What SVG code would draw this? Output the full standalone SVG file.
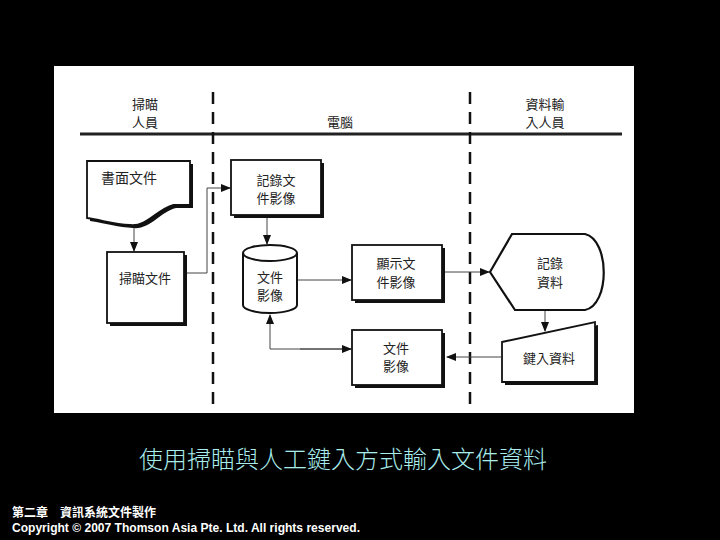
<svg xmlns="http://www.w3.org/2000/svg" width="720" height="540" viewBox="0 0 720 540">
<defs>
<style>
.t{font-family:"Noto Sans CJK TC","Noto Sans CJK SC",sans-serif;font-size:13px;fill:#222;text-anchor:middle}
.box{fill:#fff;stroke:#111;stroke-width:1.8}
.sh{fill:#111;stroke:none}
.ln{fill:none;stroke:#444;stroke-width:1}
.dash{stroke:#111;stroke-width:2.5;stroke-dasharray:12,8}
</style>
<marker id="ah" markerWidth="10" markerHeight="8" refX="9" refY="4" orient="auto" markerUnits="userSpaceOnUse">
<path d="M0,0 L10,4 L0,8 Z" fill="#111"/>
</marker>
</defs>
<rect x="0" y="0" width="720" height="540" fill="#000"/>
<rect x="54" y="66" width="580" height="347" fill="#fff"/>

<g id="header">
<line x1="80" y1="134" x2="622" y2="134" stroke="#222" stroke-width="3"/>
<line class="dash" x1="213" y1="92" x2="213" y2="404"/>
<line class="dash" x1="470" y1="92" x2="470" y2="404"/>
<text class="t" x="145" y="109">掃瞄</text>
<text class="t" x="145" y="127">人員</text>
<text class="t" x="340" y="127">電腦</text>
<text class="t" x="545" y="109">資料輸</text>
<text class="t" x="545" y="127">入人員</text>
</g>

<g id="connectors">
<line class="ln" x1="134" y1="226" x2="134" y2="251" marker-end="url(#ah)"/>
<polyline class="ln" points="187,273 207,273 207,188 230,188" marker-end="url(#ah)"/>
<line class="ln" x1="267" y1="216" x2="267" y2="244" marker-end="url(#ah)"/>
<line class="ln" x1="298" y1="280" x2="351" y2="280" marker-end="url(#ah)"/>
<line class="ln" x1="445" y1="272" x2="489" y2="272" marker-end="url(#ah)"/>
<line class="ln" x1="545" y1="311" x2="545" y2="331" marker-end="url(#ah)"/>
<line class="ln" x1="501" y1="357" x2="447" y2="357" marker-end="url(#ah)"/>
<polyline class="ln" points="351,349 270,349 270,315" marker-end="url(#ah)"/>
<line class="ln" x1="300" y1="349" x2="351" y2="349" marker-end="url(#ah)"/>
</g>

<g id="doc">
<path class="sh" d="M90,164 L193,164 L193,208 L176,208 C160,212 150,230 133,228 C118,227 108,224 90,221 Z"/>
<path class="box" d="M87,161 L190,161 L190,205 L173,205 C157,209 147,227 130,225 C115,224 105,221 87,218 Z"/>
<text class="t" x="129" y="183" style="font-size:14px">書面文件</text>
</g>

<g id="scan">
<rect class="sh" x="110" y="255" width="77" height="71"/>
<rect class="box" x="107" y="252" width="77" height="71"/>
<text class="t" x="145" y="283">掃瞄文件</text>
</g>

<g id="record">
<rect class="sh" x="234" y="163" width="90" height="55"/>
<rect class="box" x="231" y="160" width="90" height="55"/>
<text class="t" x="276" y="185">記錄文</text>
<text class="t" x="276" y="203">件影像</text>
</g>

<g id="db">
<path class="box" d="M243,253 L243,305 A27,8 0 0 0 297,305 L297,253 A27,8 0 0 0 243,253 A27,8 0 0 0 297,253" style="stroke-width:2"/>
<text class="t" x="270" y="282">文件</text>
<text class="t" x="270" y="300">影像</text>
</g>

<g id="display">
<rect class="sh" x="355" y="248" width="90" height="55"/>
<rect class="box" x="352" y="245" width="90" height="55"/>
<text class="t" x="396" y="268">顯示文</text>
<text class="t" x="396" y="287">件影像</text>
</g>

<g id="image2">
<rect class="sh" x="355" y="333" width="90" height="55"/>
<rect class="box" x="352" y="330" width="90" height="55"/>
<text class="t" x="396" y="353">文件</text>
<text class="t" x="396" y="371">影像</text>
</g>

<g id="recdata">
<path class="box" d="M490,272 L512,234 L585,234 C610,240 610,305 585,310 L515,310 Z" style="stroke-width:2.2"/>
<text class="t" x="550" y="268">記錄</text>
<text class="t" x="550" y="287">資料</text>
</g>

<g id="keyin">
<path class="sh" d="M505,345 L598,325 L598,385 L505,385 Z"/>
<path class="box" d="M502,342 L595,322 L595,382 L502,382 Z"/>
<text class="t" x="549" y="363">鍵入資料</text>
</g>

<g id="caption">
<text x="343" y="468" style="font-family:'Noto Sans CJK TC','Noto Sans CJK SC',sans-serif;font-size:24px;font-weight:300;fill:#a8ecec;text-anchor:middle">使用掃瞄與人工鍵入方式輸入文件資料</text>
<text x="12" y="517" style="font-family:'Noto Sans CJK TC','Noto Sans CJK SC',sans-serif;font-size:12px;font-weight:bold;fill:#fff">第二章　資訊系統文件製作</text>
<text x="12" y="532" textLength="348" lengthAdjust="spacingAndGlyphs" style="font-family:'Liberation Sans',Arial,sans-serif;font-size:13px;font-weight:bold;fill:#fff">Copyright © 2007 Thomson Asia Pte. Ltd. All rights reserved.</text>
</g>
</svg>
